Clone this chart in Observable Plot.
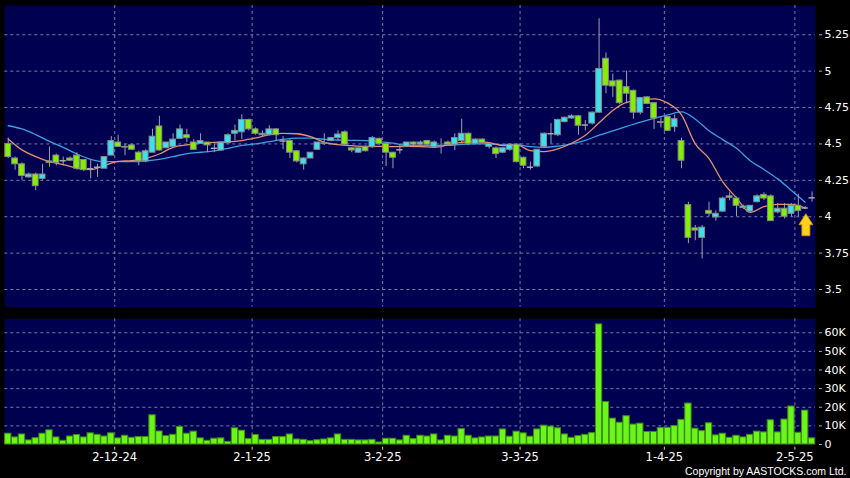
<!DOCTYPE html>
<html><head><meta charset="utf-8">
<script src="https://cdn.jsdelivr.net/npm/d3@7"></script>
<script src="https://cdn.jsdelivr.net/npm/@observablehq/plot@0.6"></script>
<style>
html,body{margin:0;padding:0;background:#000;}
#chart{width:850px;height:478px;background:#000;overflow:hidden;}
#chart svg{display:block;}
</style></head><body><div id="chart"></div>
<script>
// Daily candles, 8 Nov 2024 .. 7 May 2025 (index 0..117)
const open  = [4.50,4.40,4.36,4.27,4.29,4.26,4.38,4.42,4.385,4.40,4.42,4.39,4.33,4.34,4.33,4.42,4.51,4.48,4.49,4.44,4.38,4.44,4.62,4.47,4.48,4.535,4.56,4.51,4.50,4.51,4.47,4.455,4.505,4.57,4.58,4.665,4.60,4.56,4.56,4.60,4.52,4.52,4.45,4.36,4.40,4.46,4.50,4.52,4.54,4.58,4.47,4.44,4.48,4.477,4.535,4.50,4.44,4.46,4.48,4.51,4.495,4.52,4.477,4.48,4.51,4.495,4.52,4.57,4.50,4.53,4.48,4.47,4.44,4.46,4.495,4.405,4.34,4.345,4.48,4.57,4.56,4.65,4.675,4.69,4.63,4.64,4.715,5.085,4.93,4.935,4.89,4.865,4.715,4.82,4.78,4.65,4.685,4.615,4.52,4.08,3.92,3.855,4.04,3.995,4.035,4.14,4.125,4.06,4.035,4.10,4.15,4.14,4.03,4.055,4.02,4.075,4.06,4.13];
const high  = [4.54,4.41,4.37,4.30,4.30,4.36,4.48,4.43,4.41,4.41,4.44,4.39,4.385,4.36,4.41,4.55,4.56,4.50,4.50,4.45,4.46,4.60,4.69,4.51,4.57,4.63,4.60,4.53,4.57,4.51,4.50,4.51,4.57,4.63,4.70,4.67,4.61,4.59,4.625,4.605,4.55,4.53,4.455,4.405,4.44,4.51,4.57,4.545,4.59,4.59,4.475,4.47,4.485,4.55,4.54,4.51,4.44,4.49,4.51,4.515,4.52,4.525,4.52,4.535,4.52,4.57,4.67,4.575,4.535,4.535,4.505,4.48,4.475,4.50,4.50,4.41,4.375,4.46,4.575,4.64,4.67,4.685,4.70,4.695,4.66,4.72,5.36,5.125,4.98,4.94,5.0,4.87,4.82,4.825,4.785,4.68,4.69,4.70,4.54,4.10,3.94,3.94,4.10,4.04,4.135,4.165,4.135,4.08,4.075,4.15,4.165,4.15,4.09,4.09,4.09,4.155,4.07,4.17];
const low   = [4.40,4.32,4.25,4.265,4.18,4.25,4.34,4.35,4.35,4.38,4.32,4.31,4.26,4.27,4.33,4.42,4.48,4.42,4.455,4.35,4.37,4.44,4.45,4.47,4.48,4.53,4.51,4.455,4.50,4.44,4.44,4.45,4.50,4.52,4.53,4.59,4.56,4.545,4.555,4.52,4.46,4.40,4.37,4.32,4.40,4.455,4.49,4.515,4.52,4.49,4.44,4.435,4.445,4.47,4.49,4.345,4.33,4.43,4.475,4.48,4.485,4.49,4.47,4.43,4.49,4.455,4.51,4.49,4.495,4.50,4.465,4.40,4.435,4.45,4.37,4.33,4.32,4.34,4.47,4.50,4.55,4.645,4.67,4.56,4.59,4.63,4.71,4.845,4.82,4.77,4.775,4.67,4.70,4.77,4.60,4.61,4.585,4.58,4.33,3.815,3.835,3.71,4.00,3.97,4.03,4.11,4.00,4.05,4.03,4.095,4.11,3.97,4.02,3.985,4.00,4.00,4.05,4.10];
const close = [4.41,4.36,4.28,4.29,4.21,4.29,4.37,4.37,4.385,4.385,4.33,4.32,4.33,4.34,4.41,4.52,4.48,4.475,4.46,4.38,4.45,4.55,4.455,4.51,4.53,4.60,4.54,4.46,4.52,4.49,4.47,4.51,4.56,4.59,4.665,4.60,4.57,4.57,4.60,4.56,4.52,4.44,4.38,4.40,4.44,4.51,4.505,4.54,4.565,4.495,4.455,4.47,4.45,4.54,4.50,4.44,4.405,4.46,4.51,4.495,4.51,4.495,4.51,4.485,4.495,4.54,4.57,4.50,4.53,4.505,4.50,4.43,4.47,4.495,4.375,4.35,4.34,4.46,4.57,4.57,4.665,4.68,4.69,4.625,4.63,4.715,5.015,4.90,4.895,4.78,4.845,4.715,4.815,4.775,4.675,4.645,4.59,4.67,4.385,3.855,3.905,3.925,4.02,4.02,4.125,4.13,4.075,4.07,4.075,4.14,4.125,3.97,4.055,4.00,4.075,4.04,4.06,4.13];
// volume in thousands of shares
const volume = [5.8,3.8,5.4,2.2,3.4,5.8,7.6,3.8,2.0,4.3,5.1,3.8,6.0,5.2,4.3,6.0,3.3,4.7,3.6,4.0,4.0,15.7,7.0,4.5,5.2,9.4,5.8,6.9,3.3,2.0,3.1,3.3,1.4,8.7,7.4,2.9,5.1,2.5,2.5,4.0,4.0,5.4,2.7,2.5,1.8,2.3,2.7,3.3,5.4,2.5,2.5,2.2,2.2,2.5,1.1,3.1,3.1,2.2,4.7,2.9,4.7,4.3,5.4,2.2,4.7,4.3,8.3,4.7,3.3,3.8,4.3,4.3,8.1,4.2,6.9,6.0,4.2,8.1,10.1,9.6,8.7,5.4,3.6,4.5,5.2,6.1,64.5,22.8,13.9,11.7,15.2,10.7,11.2,6.7,6.7,8.9,9.0,9.9,13.2,22.0,8.5,7.2,11.4,4.9,5.8,3.6,4.7,3.8,5.2,6.9,6.5,13.0,6.5,13.4,20.4,6.3,18.2,3.3];
// moving averages read at every second day (index 0,2,4,...,116)
const maFast = [4.534,4.459,4.413,4.378,4.358,4.333,4.323,4.351,4.381,4.385,4.401,4.431,4.477,4.493,4.505,4.511,4.514,4.523,4.541,4.564,4.573,4.57,4.55,4.511,4.495,4.488,4.484,4.484,4.481,4.484,4.482,4.477,4.493,4.511,4.518,4.509,4.489,4.493,4.454,4.447,4.466,4.505,4.56,4.645,4.73,4.785,4.80,4.81,4.78,4.70,4.50,4.40,4.24,4.13,4.03,4.07,4.085,4.085,4.06];
const maSlow = [4.625,4.603,4.564,4.518,4.477,4.431,4.394,4.378,4.378,4.378,4.383,4.394,4.413,4.433,4.443,4.452,4.47,4.49,4.50,4.516,4.532,4.54,4.54,4.532,4.527,4.525,4.523,4.516,4.505,4.49,4.488,4.49,4.49,4.497,4.50,4.50,4.493,4.493,4.481,4.477,4.485,4.50,4.525,4.56,4.59,4.62,4.65,4.675,4.70,4.72,4.67,4.59,4.53,4.47,4.385,4.325,4.26,4.18,4.10];
// date ticks: index of first trading day of the labelled date
const tickIndex  = [16, 36, 55, 75, 96, 115];
const tickLabels = ["2-12-24", "2-1-25", "3-2-25", "3-3-25", "1-4-25", "2-5-25"];
const priceTicks = [3.5, 3.75, 4, 4.25, 4.5, 4.75, 5, 5.25];
const volumeTicks = [0, 10, 20, 30, 40, 50, 60];
const arrowMarker = [{i: 116.1, price: 3.945}];
const copyright = "Copyright by AASTOCKS.com Ltd.";

const n = open.length;
const candles = open.map((o, i) => ({i, o, h: high[i], l: low[i], c: close[i], v: volume[i]}));
const fast = maFast.map((v, j) => ({i: 2 * j, v}));
const slow = maSlow.map((v, j) => ({i: 2 * j, v}));
const isDoji = d => Math.abs(d.o - d.c) < 0.004;

const NAVY = "#000050", CYAN = "#3ee0f0", GREEN = "#84f000", GRID = "#8a90b8";
const gridOpts = {stroke: GRID, strokeOpacity: 0.85, strokeDasharray: "3,3", strokeWidth: 1};
const xDomain = [-0.5, n - 0.5];
const common = {width: 850, marginLeft: 4.3, marginRight: 35,
  style: {background: "transparent", fontFamily: "DejaVu Sans", fontSize: "11px", color: "#fff"}};
const labelAt = new Map(tickIndex.map((k, j) => [k - 0.5, tickLabels[j]]));

const arrowSymbol = {
  draw(ctx, size) {
    const r = Math.sqrt(size / Math.PI), s = 0.57 * r, h = 1.57 * r;
    ctx.moveTo(0, -h); ctx.lineTo(r, 0); ctx.lineTo(s, 0); ctx.lineTo(s, h);
    ctx.lineTo(-s, h); ctx.lineTo(-s, 0); ctx.lineTo(-r, 0); ctx.closePath();
  }
};

const price = Plot.plot({
  ...common, height: 310, marginTop: 5, marginBottom: 3.5,
  x: {domain: xDomain, axis: null},
  y: {domain: [3.38, 5.451], axis: null},
  marks: [
    Plot.frame({fill: NAVY, stroke: "none"}),
    Plot.ruleY(priceTicks, gridOpts),
    Plot.ruleX(tickIndex, {...gridOpts, x: d => d - 0.5}),
    Plot.axisY(priceTicks, {anchor: "right", label: null, tickSize: 3, dx: 3, tickPadding: 3, stroke: "#aaa", fill: "#fff", fontSize: 11, tickFormat: d => String(d)}),
    Plot.line(slow, {x: "i", y: "v", stroke: "#3f9fe0", strokeWidth: 1.3, curve: "monotone-x"}),
    Plot.line(fast, {x: "i", y: "v", stroke: "#e89070", strokeWidth: 1.3, curve: "monotone-x"}),
    Plot.ruleX(candles, {x: "i", y1: "l", y2: "h", stroke: "#a0a0a8", strokeWidth: 1}),
    Plot.rect(candles.filter(d => !isDoji(d)), {x1: d => d.i - 0.42, x2: d => d.i + 0.42, y1: "o", y2: "c",
      fill: d => d.c > d.o ? CYAN : GREEN, stroke: "#8a8a8a", strokeWidth: 1}),
    Plot.ruleY(candles.filter(isDoji), {x1: d => d.i - 0.45, x2: d => d.i + 0.45, y: "o", stroke: "#a8a8b0", strokeWidth: 1.5}),
    Plot.dot(arrowMarker, {x: "i", y: "price", r: 7, symbol: arrowSymbol, fill: "#ffd21a", stroke: "#e09000", strokeWidth: 0.8})
  ]
});

const vol = Plot.plot({
  ...common, height: 168, marginTop: 8.3, marginBottom: 34,
  x: {domain: xDomain, axis: null},
  y: {domain: [0, 67.5], axis: null},
  marks: [
    Plot.frame({fill: NAVY, stroke: "none"}),
    Plot.ruleY(volumeTicks.filter(d => d > 0), gridOpts),
    Plot.ruleX(tickIndex, {...gridOpts, x: d => d - 0.5}),
    Plot.rect(candles, {x1: d => d.i - 0.46, x2: d => d.i + 0.46, y1: 0, y2: "v", fill: "#6cf51a", stroke: "#3c8c10", strokeWidth: 1}),
    Plot.axisY(volumeTicks, {anchor: "right", label: null, tickSize: 3, dx: 3, tickPadding: 3, stroke: "#aaa", fill: "#fff", fontSize: 11, tickFormat: d => d ? d + "K" : "0"}),
    Plot.axisX(tickIndex.map(k => k - 0.5), {anchor: "bottom", label: null, tickSize: 3, dy: 2.7, tickPadding: 3, stroke: "#ccc", fill: "#fff", fontSize: 11.5, tickFormat: d => labelAt.get(d)}),
    Plot.text([copyright], {text: d => d, frameAnchor: "bottom-right", dx: 31, dy: 30, textAnchor: "end", fill: "#fff", fontSize: 10.5, fontFamily: "Liberation Sans"})
  ]
});

const root = document.getElementById("chart");
root.appendChild(price);
root.appendChild(vol);
</script>
</body></html>
